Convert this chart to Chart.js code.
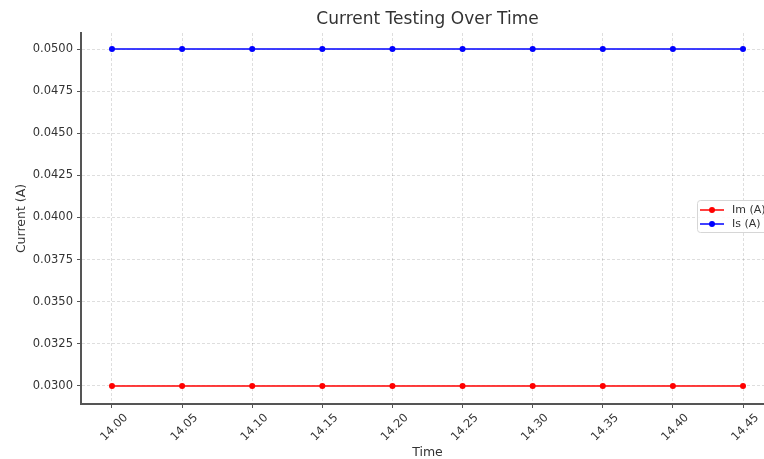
<!DOCTYPE html>
<html>
<head>
<meta charset="utf-8">
<script src="https://cdn.jsdelivr.net/npm/chart.js@4/dist/chart.umd.min.js"></script>
<style>
html, body { margin: 0; padding: 0; background: #fff; overflow: hidden; }
</style>
</head>
<body>
<canvas id="currentChart" width="774" height="459"></canvas>
<script>
'use strict';

//Chart data
var times = [14.00, 14.05, 14.10, 14.15, 14.20, 14.25, 14.30, 14.35, 14.40, 14.45];
var imValues = [0.03, 0.03, 0.03, 0.03, 0.03, 0.03, 0.03, 0.03, 0.03, 0.03];
var isValues = [0.05, 0.05, 0.05, 0.05, 0.05, 0.05, 0.05, 0.05, 0.05, 0.05];
var yTicks = [0.0300, 0.0325, 0.0350, 0.0375, 0.0400, 0.0425, 0.0450, 0.0475, 0.0500];
var seriesLabels = ['Im (A)', 'Is (A)'];

var font = "'DejaVu Sans', sans-serif";
var textColor = '#333333';

function toPoints(values) {
    return values.map(function(v, i) {
        return { x: times[i], y: v };
    });
}

//Legend box drawn inside the plot, right middle
var boxLegend = {
    id: 'boxLegend',
    afterDraw: function(chart) {
        var ctx = chart.ctx,
            area = chart.chartArea;
        var w = 72, h = 32;
        var x = Math.round(area.right - w - 5);
        var y = Math.round((area.top + area.bottom) / 2 - h / 2 - 3);

        ctx.save();
        ctx.fillStyle = 'rgba(255,255,255,0.85)';
        ctx.strokeStyle = '#d6d6d6';
        ctx.lineWidth = 1;
        ctx.beginPath();
        ctx.roundRect(x + 0.5, y + 0.5, w, h, 3);
        ctx.fill();
        ctx.stroke();

        chart.data.datasets.forEach(function(ds, i) {
            var cy = y + 10 + i * 14;
            ctx.strokeStyle = ds.borderColor;
            ctx.lineWidth = 1.5;
            ctx.beginPath();
            ctx.moveTo(x + 3, cy);
            ctx.lineTo(x + 27, cy);
            ctx.stroke();
            ctx.fillStyle = ds.backgroundColor;
            ctx.beginPath();
            ctx.arc(x + 15, cy, 3, 0, Math.PI * 2);
            ctx.fill();
            ctx.fillStyle = textColor;
            ctx.font = "11px " + font;
            ctx.textBaseline = 'middle';
            ctx.textAlign = 'left';
            ctx.fillText(ds.label, x + 35, cy);
        });
        ctx.restore();
    }
};

var ctx = document.getElementById("currentChart");

var myChart = new Chart(ctx, {
    type: 'line',
    data: {
        datasets: [
            {
                label: seriesLabels[0],
                data: toPoints(imValues),
                borderColor: '#ff0000',
                backgroundColor: '#ff0000',
                borderWidth: 1.5,
                pointRadius: 3,
                pointBorderWidth: 0,
                tension: 0
            },
            {
                label: seriesLabels[1],
                data: toPoints(isValues),
                borderColor: '#0000ff',
                backgroundColor: '#0000ff',
                borderWidth: 1.5,
                pointRadius: 3,
                pointBorderWidth: 0,
                tension: 0
            }
        ]
    },
    options: {
        responsive: false,
        animation: false,
        layout: { padding: 0, autoPadding: false },
        plugins: {
            legend: { display: false },
            tooltip: { enabled: false },
            title: {
                display: true,
                text: 'Current Testing Over Time',
                fullSize: false,
                color: textColor,
                font: { family: font, size: 17, weight: 'normal', lineHeight: 1.2 },
                padding: { top: 9, bottom: 3.6 }
            }
        },
        scales: {
            x: {
                type: 'linear',
                min: 13.9779,
                max: 14.4721,
                afterBuildTicks: function(scale) {
                    scale.ticks = times.map(function(t) { return { value: t }; });
                },
                afterFit: function(scale) {
                    scale.height = 55;
                    scale.paddingLeft = 0;
                    scale.paddingRight = 0;
                },
                ticks: {
                    autoSkip: false,
                    minRotation: 45,
                    maxRotation: 45,
                    labelOffset: 14,
                    padding: 3,
                    color: textColor,
                    font: { family: font, size: 11.5 },
                    callback: function(v) { return Number(v).toFixed(2); }
                },
                grid: {
                    color: 'rgba(0,0,0,0.13)',
                    tickColor: '#555',
                    tickLength: 4
                },
                border: { display: true, color: '#555', width: 2, dash: [3, 2] },
                title: {
                    display: true,
                    text: 'Time',
                    color: textColor,
                    font: { family: font, size: 12.5 },
                    padding: { top: 0, bottom: -1.5 }
                }
            },
            y: {
                min: 0.028931,
                max: 0.05095,
                afterBuildTicks: function(scale) {
                    scale.ticks = yTicks.map(function(t) { return { value: t }; });
                },
                afterFit: function(scale) {
                    scale.width = 81;
                    scale.paddingTop = 0;
                    scale.paddingBottom = 0;
                },
                ticks: {
                    padding: 4,
                    color: textColor,
                    font: { family: font, size: 11.5 },
                    callback: function(v) { return Number(v).toFixed(4); }
                },
                grid: {
                    color: 'rgba(0,0,0,0.13)',
                    tickColor: '#555',
                    tickLength: 4
                },
                border: { display: true, color: '#555', width: 2, dash: [3, 2] },
                title: {
                    display: true,
                    text: 'Current (A)',
                    color: textColor,
                    font: { family: font, size: 12.5 },
                    padding: { top: 14, bottom: 0 }
                }
            }
        }
    },
    plugins: [boxLegend]
});
</script>
</body>
</html>
